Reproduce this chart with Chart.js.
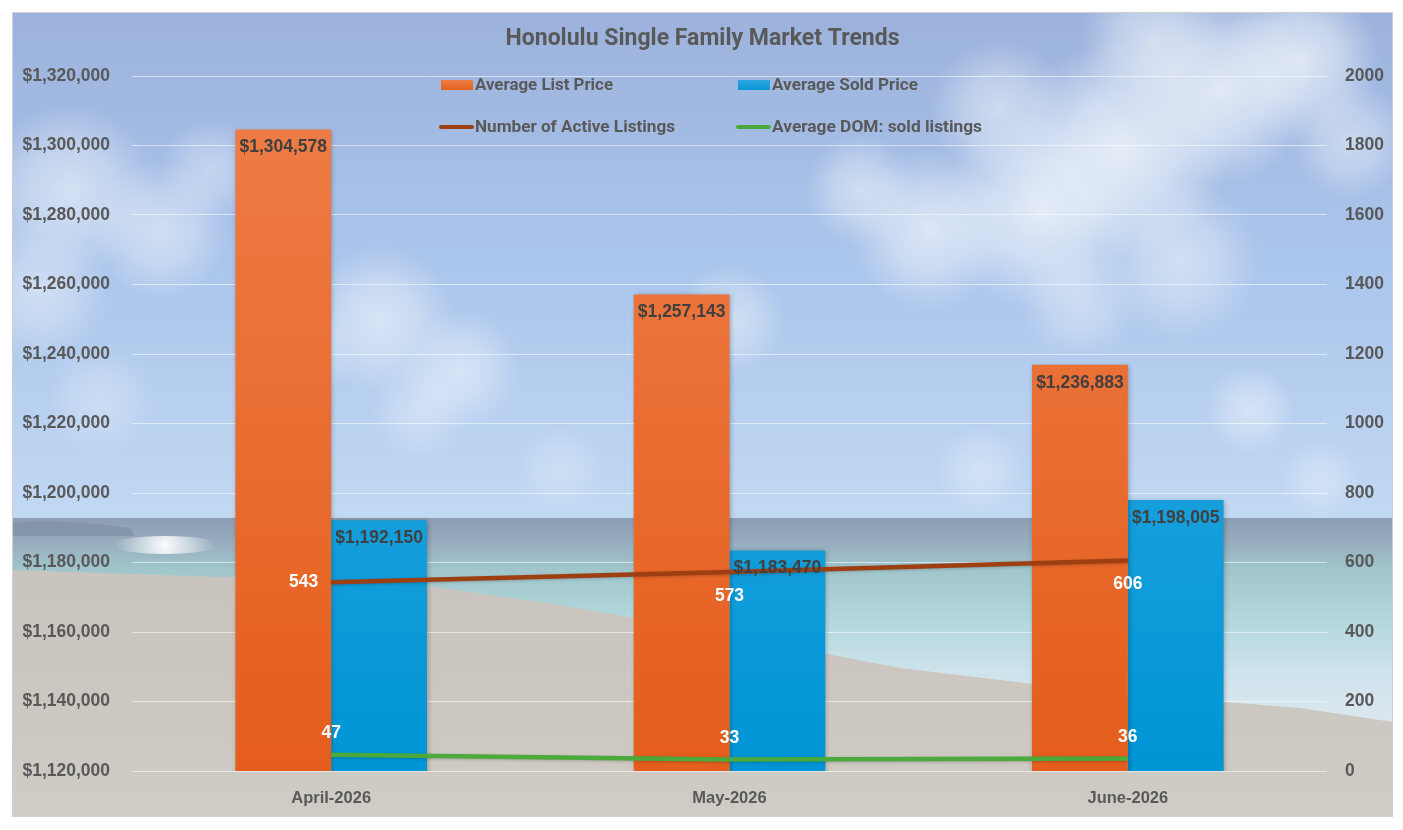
<!DOCTYPE html>
<html>
<head>
<meta charset="utf-8">
<script src="https://cdn.jsdelivr.net/npm/chart.js@4.4.1/dist/chart.umd.min.js"></script>
<style>
  html, body { margin: 0; padding: 0; background: #ffffff; }
  #wrap { position: relative; width: 1403px; height: 830px; }
</style>
</head>
<body>
<div id="wrap"><canvas id="c" width="1403" height="830"></canvas></div>
<script>
// ---- data ----
const categories = ['April-2026', 'May-2026', 'June-2026'];
const avgListPrice = [1304578, 1257143, 1236883];
const avgSoldPrice = [1192150, 1183470, 1198005];
const activeListings = [543, 573, 606];
const avgDomSold = [47, 33, 36];
const seriesNames = ['Average List Price', 'Average Sold Price', 'Number of Active Listings', 'Average DOM: sold listings'];
const chartTitle = 'Honolulu Single Family Market Trends';
const priceAxis = { min: 1120000, max: 1320000, step: 20000 };
const countAxis = { min: 0, max: 2000, step: 200 };

// ---- styling ----
const FRAME = { l: 12, t: 12, r: 1393, b: 817 };
const TICK_COLOR = '#595959';
const LABEL_DARK = '#404040';
const NARROW = "'Liberation Sans Narrow', 'Arial Narrow', 'Roboto', 'DejaVu Sans Condensed', sans-serif";
const WIDE = "'Liberation Sans', Arial, sans-serif";
const ORANGE = '#ea6a2a', BLUE = '#1aa0dc', BROWN = '#9e3f12', GREEN = '#4caa3c';

function fmtMoney(v) { return '$' + Math.round(v).toLocaleString('en-US'); }

function vGrad(ctx, area, top, bottom) {
  const g = ctx.createLinearGradient(0, area.top, 0, area.bottom);
  g.addColorStop(0, top); g.addColorStop(1, bottom); return g;
}

function fitText(ctx, text, x, y, font, targetW) {
  ctx.font = font;
  const w = ctx.measureText(text).width;
  const s = targetW ? Math.min(1.15, targetW / w) : 1;
  ctx.save();
  ctx.translate(x, y);
  ctx.scale(s, 1);
  ctx.fillText(text, 0, 0);
  ctx.restore();
  return w * s;
}

// Background photo imitation: sky, clouds, sea, sand
const backgroundPlugin = {
  id: 'beachBg',
  beforeDraw(chart) {
    const ctx = chart.ctx;
    const f = FRAME;
    ctx.save();
    ctx.fillStyle = '#ffffff';
    ctx.fillRect(0, 0, chart.width, chart.height);
    ctx.beginPath(); ctx.rect(f.l, f.t, f.r - f.l, f.b - f.t); ctx.clip();
    // sky
    let g = ctx.createLinearGradient(0, f.t, 0, 525);
    g.addColorStop(0, '#9cb2dc'); g.addColorStop(0.5, '#abc6ec'); g.addColorStop(1, '#c2d9f3');
    ctx.fillStyle = g; ctx.fillRect(f.l, f.t, f.r - f.l, 525 - f.t);
    // clouds (soft round puffs)
    const clouds = [
      [1120, 150, 110, 0.85], [1220, 90, 95, 0.8], [1040, 210, 100, 0.8], [930, 230, 80, 0.7],
      [1300, 60, 80, 0.75], [1150, 40, 70, 0.6], [1000, 110, 70, 0.55], [860, 190, 55, 0.55],
      [1180, 260, 80, 0.55], [1350, 140, 60, 0.5], [1080, 300, 60, 0.45],
      [70, 190, 85, 0.6], [160, 230, 70, 0.55], [40, 290, 70, 0.5], [210, 170, 50, 0.4],
      [380, 320, 75, 0.6], [460, 370, 60, 0.55], [300, 350, 55, 0.45], [420, 410, 50, 0.4],
      [100, 400, 55, 0.35], [730, 320, 55, 0.5], [690, 360, 40, 0.35],
      [1250, 410, 45, 0.5], [980, 470, 45, 0.4], [1320, 480, 40, 0.4], [560, 470, 45, 0.3]
    ];
    clouds.forEach(([x, y, r, a]) => {
      const rg = ctx.createRadialGradient(x, y, 0, x, y, r);
      rg.addColorStop(0, 'rgba(243,246,251,' + a + ')');
      rg.addColorStop(0.5, 'rgba(236,241,249,' + (a * 0.7) + ')');
      rg.addColorStop(1, 'rgba(228,236,248,0)');
      ctx.fillStyle = rg;
      ctx.beginPath(); ctx.arc(x, y, r, 0, Math.PI * 2); ctx.fill();
    });
    // sea
    g = ctx.createLinearGradient(0, 518, 0, 725);
    g.addColorStop(0, '#8d9db3'); g.addColorStop(0.1, '#96aabd'); g.addColorStop(0.25, '#a0c6cc');
    g.addColorStop(0.5, '#b3d8dd'); g.addColorStop(0.75, '#cfe3ec'); g.addColorStop(1, '#dce7ef');
    ctx.fillStyle = g; ctx.fillRect(f.l, 518, f.r - f.l, f.b - 518);
    // distant island
    ctx.fillStyle = 'rgba(120,135,160,0.5)';
    ctx.beginPath(); ctx.moveTo(f.l, 523); ctx.quadraticCurveTo(60, 518, 130, 528); ctx.lineTo(135, 536); ctx.lineTo(f.l, 536); ctx.closePath(); ctx.fill();
    // wave foam left
    const wg = ctx.createRadialGradient(165, 545, 0, 165, 545, 50);
    wg.addColorStop(0, 'rgba(255,255,255,0.95)'); wg.addColorStop(1, 'rgba(255,255,255,0)');
    ctx.fillStyle = wg; ctx.beginPath(); ctx.ellipse(165, 545, 55, 9, 0, 0, Math.PI * 2); ctx.fill();
    // sand
    g = ctx.createLinearGradient(0, 570, 0, f.b);
    g.addColorStop(0, '#c9c4bd'); g.addColorStop(1, '#cfcbc5');
    ctx.fillStyle = g;
    ctx.beginPath();
    ctx.moveTo(f.l, 570); ctx.lineTo(250, 578); ctx.lineTo(420, 585); ctx.lineTo(560, 605);
    ctx.lineTo(740, 637); ctx.lineTo(900, 668); ctx.lineTo(1100, 692); ctx.lineTo(1300, 708); ctx.lineTo(f.r, 722);
    ctx.lineTo(f.r, f.b); ctx.lineTo(f.l, f.b); ctx.closePath(); ctx.fill();
    ctx.restore();
    // frame border
    ctx.save();
    ctx.strokeStyle = '#d0d0d0'; ctx.lineWidth = 1;
    ctx.strokeRect(f.l + 0.5, f.t + 0.5, f.r - f.l - 1, f.b - f.t - 1);
    ctx.restore();
  }
};

// Title + legend (2 x 2)
const headerPlugin = {
  id: 'header',
  afterDraw(chart) {
    const ctx = chart.ctx;
    ctx.save();
    ctx.fillStyle = TICK_COLOR;
    ctx.textBaseline = 'middle';
    const target = 394;
    const cx = (FRAME.l + FRAME.r) / 2;
    fitText(ctx, chartTitle, cx - target / 2, 39, 'bold 23px ' + NARROW, target);
    const items = [
      { text: seriesNames[0], kind: 'box', color: ORANGE, x: 441, y: 85, w: 138 },
      { text: seriesNames[1], kind: 'box', color: BLUE, x: 738, y: 85, w: 146 },
      { text: seriesNames[2], kind: 'line', color: BROWN, x: 439, y: 127, w: 200 },
      { text: seriesNames[3], kind: 'line', color: GREEN, x: 736, y: 127, w: 210 }
    ];
    items.forEach(it => {
      if (it.kind === 'box') {
        const gg = ctx.createLinearGradient(0, it.y - 5, 0, it.y + 5);
        gg.addColorStop(0, it.color === ORANGE ? '#ef7d45' : '#2ba6e0');
        gg.addColorStop(1, it.color === ORANGE ? '#e4621f' : '#0797d7');
        ctx.fillStyle = gg;
        ctx.fillRect(it.x, it.y - 5, 32, 10);
      } else {
        ctx.strokeStyle = it.color; ctx.lineWidth = 4; ctx.lineCap = 'round';
        ctx.beginPath(); ctx.moveTo(it.x + 2, it.y); ctx.lineTo(it.x + 33, it.y); ctx.stroke();
      }
      ctx.fillStyle = TICK_COLOR;
      fitText(ctx, it.text, 475 + (it.x > 700 ? 297 : 0), it.y + 1, 'bold 16px ' + NARROW, it.w);
    });
    ctx.restore();
  }
};

// Bar/line shadows
const shadowPlugin = {
  id: 'shadow',
  beforeDatasetDraw(chart, args) {
    const ctx = chart.ctx;
    ctx.save();
    const bar = chart.data.datasets[args.index].type !== 'line';
    ctx.shadowColor = bar ? 'rgba(0,0,0,0.28)' : 'rgba(0,0,0,0.2)';
    ctx.shadowBlur = bar ? 5 : 3;
    ctx.shadowOffsetX = bar ? 1 : 0;
    ctx.shadowOffsetY = 1;
  },
  afterDatasetDraw(chart) { chart.ctx.restore(); }
};

// Data labels
const labelPlugin = {
  id: 'valueLabels',
  afterDatasetsDraw(chart, args, opts) {
    const ctx = chart.ctx;
    ctx.save();
    ctx.textBaseline = 'middle';
    chart.data.datasets.forEach((ds, di) => {
      const meta = chart.getDatasetMeta(di);
      const place = opts.placement[di];
      meta.data.forEach((el, i) => {
        const v = ds.data[i];
        let x = el.x, y = el.y;
        ctx.textAlign = 'center';
        const p = place[i];
        if (p === 'insideEnd') { y = el.y + 18; ctx.fillStyle = LABEL_DARK; }
        else if (p === 'left') { x = el.x - 13; ctx.textAlign = 'right'; ctx.fillStyle = '#ffffff'; }
        else if (p === 'below') { y = el.y + 24; ctx.fillStyle = '#ffffff'; }
        else if (p === 'above') { y = el.y - 21; ctx.fillStyle = '#ffffff'; }
        ctx.font = 'bold 17.5px ' + WIDE;
        const text = ds.type === 'line' ? String(v) : fmtMoney(v);
        ctx.fillText(text, x, y);
      });
    });
    ctx.restore();
  }
};

const ctx = document.getElementById('c').getContext('2d');
new Chart(ctx, {
  type: 'bar',
  data: {
    labels: categories,
    datasets: [
      {
        label: seriesNames[0], data: avgListPrice, yAxisID: 'y', order: 1,
        backgroundColor: (c) => c.chart.chartArea ? vGrad(c.chart.ctx, c.chart.chartArea, '#ef7e48', '#e45d1c') : ORANGE,
        categoryPercentage: 0.481, barPercentage: 1.0
      },
      {
        label: seriesNames[1], data: avgSoldPrice, yAxisID: 'y', order: 1,
        backgroundColor: (c) => c.chart.chartArea ? vGrad(c.chart.ctx, c.chart.chartArea, '#38aee6', '#0095d5') : BLUE,
        categoryPercentage: 0.481, barPercentage: 1.0
      },
      {
        type: 'line', label: seriesNames[2], data: activeListings, yAxisID: 'y1', order: 0,
        borderColor: BROWN, borderWidth: 4.5, pointRadius: 0, tension: 0, fill: false
      },
      {
        type: 'line', label: seriesNames[3], data: avgDomSold, yAxisID: 'y1', order: 0,
        borderColor: GREEN, borderWidth: 4.5, pointRadius: 0, tension: 0, fill: false
      }
    ]
  },
  options: {
    responsive: false,
    animation: false,
    devicePixelRatio: 1,
    layout: { padding: { left: 12, right: 10, top: 76, bottom: 13 } },
    plugins: {
      legend: { display: false },
      title: { display: false },
      tooltip: { enabled: false },
      valueLabels: {
        placement: [
          ['insideEnd', 'insideEnd', 'insideEnd'],
          ['insideEnd', 'insideEnd', 'insideEnd'],
          ['left', 'below', 'below'],
          ['above', 'above', 'above']
        ]
      }
    },
    scales: {
      x: {
        grid: { display: false, drawTicks: false },
        border: { display: false },
        ticks: { color: TICK_COLOR, font: { family: WIDE, size: 16.5, weight: 'bold' }, padding: 18 },
        afterFit(s) { s.height = 46; }
      },
      y: {
        position: 'left',
        min: priceAxis.min, max: priceAxis.max,
        ticks: { stepSize: priceAxis.step, color: TICK_COLOR, font: { family: WIDE, size: 17.5, weight: 'bold' }, padding: 22, callback: (v) => fmtMoney(v) },
        grid: { color: 'rgba(255,255,255,0.55)', lineWidth: 1, drawTicks: false },
        border: { display: false },
        afterFit(s) { s.width = 120; }
      },
      y1: {
        position: 'right',
        min: countAxis.min, max: countAxis.max,
        ticks: { stepSize: countAxis.step, color: TICK_COLOR, font: { family: WIDE, size: 17.5, weight: 'bold' }, padding: 18, callback: (v) => String(v) },
        grid: { drawOnChartArea: false, drawTicks: false },
        border: { display: false },
        afterFit(s) { s.width = 66; }
      }
    }
  },
  plugins: [backgroundPlugin, shadowPlugin, labelPlugin, headerPlugin]
});
</script>
</body>
</html>
